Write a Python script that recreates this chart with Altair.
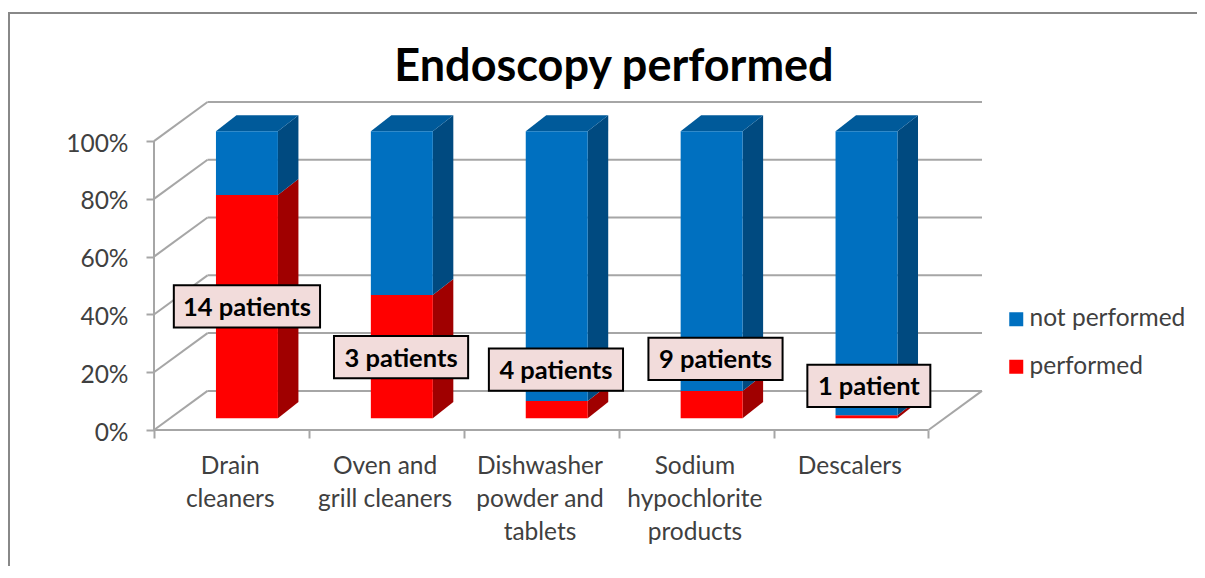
import altair as alt
import pandas as pd

title = "Endoscopy performed"
categories = ["Drain\ncleaners", "Oven and\ngrill cleaners", "Dishwasher\npowder and\ntablets",
              "Sodium\nhypochlorite\nproducts", "Descalers"]
performed = [77.8, 42.9, 6.0, 9.5, 1.0]
not_performed = [22.2, 57.1, 94.0, 90.5, 99.0]
labels = ["14 patients", "3 patients", "4 patients", "9 patients", "1 patient"]
label_cat = [0.60, 1.595, 2.595, 3.625, 4.615]
label_pct = [42.8, 25.2, 20.9, 24.6, 15.3]
label_halfwidth = [0.472, 0.433, 0.433, 0.433, 0.397]
series = ["not performed", "performed"]
ticks = [0, 20, 40, 60, 80, 100]
cat_ticks = [0, 1, 2, 3, 4, 5]

FONT = "Lato"
GRID = "#a6a6a6"
TEXT = "#404040"
DX, DY = 0.3455, 13.54            # wall depth in axis units
X_MAX = 5 + DX
Y_MAX = 100 + DY
BAR_L, BAR_W = 0.40, 0.40         # bar position inside a category
BAR_DX, BAR_DY = 0.1324, 5.56     # bar depth
BASE, K = 4.1, 0.993              # bars stand forward on the floor

FRONT = {"not performed": "#0070c0", "performed": "#ff0000"}
SIDE = {"not performed": "#004a80", "performed": "#a00000"}
TOP = {"not performed": "#005a9a", "performed": "#c00000"}

xs = alt.Scale(domain=[0, X_MAX], nice=False, zero=False)
ys = alt.Scale(domain=[0, Y_MAX], nice=False, zero=False)
x_axis = alt.Axis(values=cat_ticks, labels=False, domain=False, grid=False,
                  tickColor=GRID, tickWidth=2, tickSize=8, title=None)
y_axis = alt.Axis(values=ticks, labelExpr="datum.value + '%'", domain=False, grid=False,
                  tickColor=GRID, tickWidth=2, tickSize=8, labelFont=FONT, labelFontSize=24.5,
                  labelColor=TEXT, labelPadding=18, labelOffset=3, title=None)
X = lambda f="x": alt.X(f"{f}:Q", scale=xs, axis=x_axis)
Y = lambda f="y": alt.Y(f"{f}:Q", scale=ys, axis=y_axis)

# walls and floor
lines = []
for v in ticks:
    lines.append(dict(x=DX, x2=X_MAX, y=v + DY, y2=v + DY))
    lines.append(dict(x=0, x2=DX, y=v, y2=v + DY))
lines.append(dict(x=5, x2=X_MAX, y=0, y2=DY))
lines.append(dict(x=0, x2=5, y=0, y2=0))
lines.append(dict(x=0, x2=0, y=0, y2=100))
walls = alt.Chart(pd.DataFrame(lines)).mark_rule(color=GRID, strokeWidth=2).encode(
    x=X(), x2="x2:Q", y=Y(), y2="y2:Q")

# bars
front, side, top = [], [], []
for i in range(len(categories)):
    lo = 0.0
    for name, val in (("performed", performed[i]), ("not performed", not_performed[i])):
        x0, x1 = i + BAR_L, i + BAR_L + BAR_W
        y0, y1 = BASE + lo * K, BASE + (lo + val) * K
        front.append(dict(series=name, x=x0, x2=x1, y=y0, y2=y1))
        sid = f"{i}-{name}"
        side.append(dict(id=sid, fill=SIDE[name], x=x1, y=y0, y2=y1))
        side.append(dict(id=sid, fill=SIDE[name], x=x1 + BAR_DX, y=y0 + BAR_DY, y2=y1 + BAR_DY))
        if name == "not performed":
            top.append(dict(id=sid, fill=TOP[name], y=y1, x=x0, x2=x1))
            top.append(dict(id=sid, fill=TOP[name], y=y1 + BAR_DY, x=x0 + BAR_DX, x2=x1 + BAR_DX))
        lo += val

side_layer = alt.Chart(pd.DataFrame(side)).mark_area(strokeWidth=0).encode(
    x=X(), y=Y(), y2="y2:Q", detail="id:N", fill=alt.Fill("fill:N", scale=None))
top_layer = alt.Chart(pd.DataFrame(top)).mark_area(orient="horizontal", strokeWidth=0).encode(
    y=Y(), x=X(), x2="x2:Q", detail="id:N", fill=alt.Fill("fill:N", scale=None))
front_layer = alt.Chart(pd.DataFrame(front)).mark_rect(strokeWidth=0).encode(
    x=X(), x2="x2:Q", y=Y(), y2="y2:Q",
    color=alt.Color("series:N", scale=alt.Scale(domain=series, range=[FRONT[s] for s in series]),
                    legend=alt.Legend(
                        title=None, orient="none", legendX=850, legendY=205,
                        symbolType="square", symbolSize=196, symbolStrokeWidth=0,
                        labelFont=FONT, labelFontSize=24.5, labelColor=TEXT,
                        labelOffset=1, rowPadding=22.5, labelLimit=300)))

# callouts
box = pd.DataFrame({
    "x": [c - w for c, w in zip(label_cat, label_halfwidth)],
    "x2": [c + w for c, w in zip(label_cat, label_halfwidth)],
    "y": [p - 7.3 for p in label_pct],
    "y2": [p + 7.3 for p in label_pct],
})
boxes = alt.Chart(box).mark_rect(fill="#f2dcdb", stroke="#000000", strokeWidth=2).encode(
    x=X(), x2="x2:Q", y=Y(), y2="y2:Q")
texts = alt.Chart(pd.DataFrame({"x": label_cat, "y": label_pct, "t": labels})).mark_text(
    font=FONT, fontSize=25.5, fontWeight="bold", color="#000000", baseline="middle", align="center", dy=1.5
).encode(x=X(), y=Y(), text="t:N")

# category names under the floor
cat_df = pd.DataFrame({"x": [i + 0.492 for i in range(5)], "t": categories})
cat_text = alt.Chart(cat_df).mark_text(
    font=FONT, fontSize=24.5, color=TEXT, baseline="top", align="center",
    lineBreak="\n", lineHeight=33
).encode(x=X(), y=alt.value(353), text="t:N")

# picture frame
frame_top = alt.Chart(pd.DataFrame({"a": [0]})).mark_rule(color="#888888", strokeWidth=2).encode(
    x=alt.value(-146), x2=alt.value(1060), y=alt.value(-89))
frame_left = alt.Chart(pd.DataFrame({"a": [0]})).mark_rule(color="#888888", strokeWidth=2).encode(
    x=alt.value(-145), y=alt.value(-89), y2=alt.value(480))

chart = alt.layer(
    walls, frame_top, frame_left, side_layer, top_layer, front_layer,
    boxes, texts, cat_text
).properties(
    width=828, height=328,
    padding={"left": 146, "top": 94, "right": 215, "bottom": 136},
    autosize=alt.AutoSizeParams(type="none"),
    background="#ffffff",
    title=alt.TitleParams(title, font=FONT, fontSize=45, fontWeight="bold", color="#000000",
                          anchor="middle", dx=46, offset=-78, frame="group"),
).configure_view(stroke=None)

chart.save("out.html", embed_options={"renderer": "svg", "actions": False})
